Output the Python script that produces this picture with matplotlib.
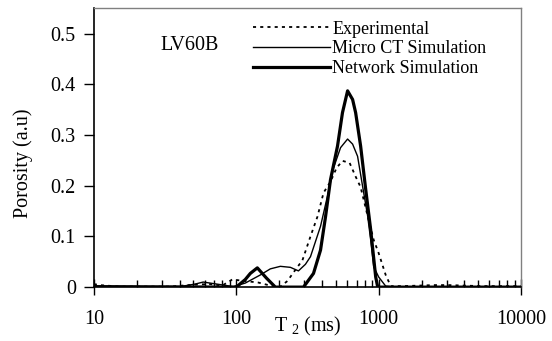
import matplotlib
matplotlib.use('Agg')
import matplotlib.pyplot as plt
from matplotlib.ticker import LogLocator, NullFormatter, FixedLocator

plt.rcParams['font.family'] = ['Liberation Serif', 'DejaVu Serif']
plt.rcParams['mathtext.fontset'] = 'custom'
plt.rcParams['mathtext.rm'] = 'Liberation Serif'

# T2 (ms) and porosity
exp_t = [10, 11, 15.2, 24.8, 34.3, 51.4, 65.6, 79.7, 93.7, 115.7, 142.9, 173.5, 204,
         228.6, 260, 291.6, 332, 371.7, 410, 459, 506, 557, 625, 689, 747, 837,
         923, 1000, 1120, 1216, 1500, 2440, 3112, 5224, 10000]
exp_v = [0.006, 0.004, 0.001, 0.001, 0.001, 0.005, 0.006, 0.003, 0.015, 0.012, 0.009,
         0.003, 0.001, 0.012, 0.034, 0.053, 0.100, 0.139, 0.186, 0.208, 0.235, 0.249,
         0.245, 0.218, 0.197, 0.140, 0.093, 0.067, 0.024, 0.002, 0.002, 0.004, 0.004,
         0.002, 0.002]

ct_t = [10, 40.3, 51.4, 58.6, 77.1, 95.3, 115.7, 147.6, 173.5, 204, 240, 273.2, 306,
        332, 390.6, 437.5, 482, 540, 605, 656, 711, 771, 837, 879, 923, 1000, 1120,
        1319, 10000]
ct_v = [0.001, 0.001, 0.006, 0.010, 0.005, 0.001, 0.008, 0.024, 0.036, 0.041, 0.039,
        0.032, 0.045, 0.060, 0.120, 0.180, 0.235, 0.275, 0.292, 0.282, 0.258, 0.199,
        0.140, 0.093, 0.040, 0.020, 0.002, 0.0, 0.0]

net_t = [10, 100, 115.7, 125.5, 140.6, 162.7, 188.2, 296.4, 348.6, 390.6, 423.6, 459,
         514, 557, 605, 656, 689, 747, 809, 879, 953, 985, 10000]
net_v = [0.001, 0.0, 0.015, 0.027, 0.038, 0.018, 0.0, 0.0, 0.027, 0.073, 0.139, 0.212,
         0.278, 0.344, 0.387, 0.370, 0.344, 0.278, 0.195, 0.113, 0.020, 0.0, 0.0]

labels = ['Experimental', 'Micro CT Simulation', 'Network Simulation']

fig = plt.figure(figsize=(5.52, 3.41), dpi=100)
ax = fig.add_axes([0.170, 0.158, 0.774, 0.818])

ax.plot(exp_t, exp_v, color='black', lw=1.3, dashes=(1.7, 2.3), label=labels[0])
ax.plot(ct_t, ct_v, color='black', lw=1.0, label=labels[1])
ax.plot(net_t, net_v, color='black', lw=2.3, label=labels[2])

ax.set_xscale('log')
ax.set_xlim(10, 10000)
ax.set_ylim(0, 0.55)
ax.set_yticks([0, 0.1, 0.2, 0.3, 0.4, 0.5])
ax.set_yticklabels(['0', '0.1', '0.2', '0.3', '0.4', '0.5'])
ax.xaxis.set_major_locator(FixedLocator([10, 100, 1000, 10000]))
ax.set_xticklabels(['10', '100', '1000', '10000'])
ax.xaxis.set_minor_locator(LogLocator(base=10, subs=range(2, 10)))
ax.xaxis.set_minor_formatter(NullFormatter())

ax.tick_params(axis='y', direction='out', length=7, width=1, labelsize=14.5, pad=6)
ax.tick_params(axis='x', which='major', direction='inout', length=11, width=1,
               labelsize=14.5, pad=11)
ax.tick_params(axis='x', which='minor', direction='in', length=5, width=1)

for s in ['left', 'bottom']:
    ax.spines[s].set_color('black')
    ax.spines[s].set_linewidth(1.2)
for s in ['top', 'right']:
    ax.spines[s].set_color('#808080')
    ax.spines[s].set_linewidth(1.0)

ax.set_ylabel('Porosity (a.u)', fontsize=14.5)
ax.yaxis.set_label_coords(-0.143, 0.443)
ax.set_xlabel(r'$\mathregular{T_{\ 2}}$ (ms)', fontsize=14.5)
ax.xaxis.set_label_coords(0.5, -0.1)

ax.text(0.155, 0.867, 'LV60B', transform=ax.transAxes, fontsize=14.5, va='center')

ax.legend(loc='upper left', bbox_to_anchor=(0.372, 0.955), frameon=False,
          fontsize=13, handlelength=4.3, handletextpad=0.1, borderpad=0,
          borderaxespad=0, labelspacing=0.15)

fig.savefig('out.png', dpi=100)
